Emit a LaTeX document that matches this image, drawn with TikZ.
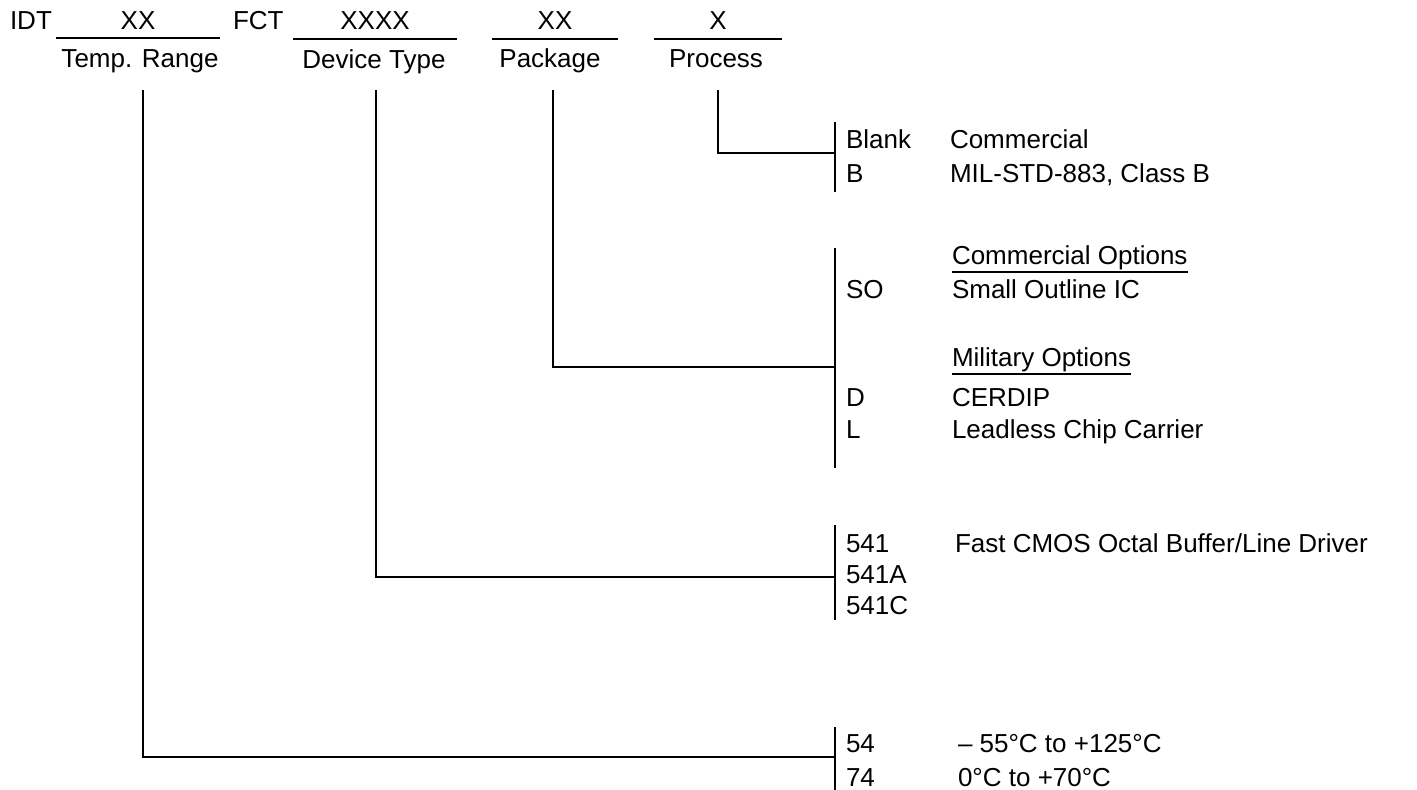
\documentclass[tikz,border=0pt]{standalone}
\usepackage{fontspec}
\setmainfont{Liberation Sans}
\begin{document}
\begin{tikzpicture}[x=1pt,y=-1pt,
  txt/.style={inner sep=0pt,outer sep=0pt,font=\fontsize{26}{31}\selectfont},
  lw/.style={anchor=base west,txt},
  lc/.style={anchor=base,txt},
  field/.style={line width=2.2pt},
  conn/.style={line width=1.8pt},
  bar/.style={line width=2pt},
  uline/.style={line width=1.5pt}]
\useasboundingbox (0,0) rectangle (1417,790);
% top row
\node[lw] (idt) at (10,29) {IDT};
\coordinate (f1a) at (56,38); \coordinate (f1b) at (220,38);
\draw[field] (f1a) -- (f1b);
\node[lc] (xx1) at (138,29) {XX};
\node[lw] (fct) at (233,29) {FCT};
\coordinate (f2a) at (293,39); \coordinate (f2b) at (457,39);
\draw[field] (f2a) -- (f2b);
\node[lc] (xxxx) at (375,29) {XXXX};
\coordinate (f3a) at (492,39); \coordinate (f3b) at (618,39);
\draw[field] (f3a) -- (f3b);
\node[lc] (xx2) at (555,29) {XX};
\coordinate (f4a) at (654,39); \coordinate (f4b) at (782,39);
\draw[field] (f4a) -- (f4b);
\node[lc] (x1) at (718,29) {X};
\node[lc] (temp) at (140,67) {Temp. Range};
\node[lc] (dev) at (374,68) {Device Type};
\node[lc] (pkg) at (550,67) {Package};
\node[lc] (proc) at (716,67) {Process};

% drop points
\coordinate (tv) at (143,90);
\coordinate (dv) at (376,90);
\coordinate (pv) at (553,90);
\coordinate (rv) at (718,90);

% bars
\coordinate (b1t) at (835,122); \coordinate (b1b) at (835,192);
\coordinate (b2t) at (835,248); \coordinate (b2b) at (835,468);
\coordinate (b3t) at (835,525); \coordinate (b3b) at (835,620);
\coordinate (b4t) at (835,727); \coordinate (b4b) at (835,790);
\draw[bar] (b1t) -- (b1b);
\draw[bar] (b2t) -- (b2b);
\draw[bar] (b3t) -- (b3b);
\draw[bar] (b4t) -- (b4b);

\coordinate (j1) at (835,153);
\coordinate (j2) at (835,367);
\coordinate (j3) at (835,577);
\coordinate (j4) at (835,757);
\draw[conn] (rv) |- (j1);
\draw[conn] (pv) |- (j2);
\draw[conn] (dv) |- (j3);
\draw[conn] (tv) |- (j4);

% process
\node[lw] (blank) at (846,148) {Blank};
\node[lw] (comm) at (950,148) {Commercial};
\node[lw] (b) at (846,182) {B};
\node[lw] (mil) at (950,182) {MIL-STD-883, Class B};

% package
\node[lw] (co) at (952,264) {Commercial Options};
\draw[uline] ([yshift=-8pt]co.base west) -- ([yshift=-8pt]co.base east);
\node[lw] (so) at (846,298) {SO};
\node[lw] (soi) at (952,298) {Small Outline IC};
\node[lw] (mo) at (952,366) {Military Options};
\draw[uline] ([yshift=-8pt]mo.base west) -- ([yshift=-8pt]mo.base east);
\node[lw] (d) at (846,406) {D};
\node[lw] (cer) at (952,406) {CERDIP};
\node[lw] (l) at (846,438) {L};
\node[lw] (lcc) at (952,438) {Leadless Chip Carrier};

% device
\node[lw] (d541) at (846,552) {541};
\node[lw] (fast) at (955,552) {Fast CMOS Octal Buffer/Line Driver};
\node[lw] (d541a) at (846,583) {541A};
\node[lw] (d541c) at (846,614) {541C};

% temp
\node[lw] (t54) at (846,752) {54};
\node[lw] (t54d) at (958,752) {– 55°C to +125°C};
\node[lw] (t74) at (846,786) {74};
\node[lw] (t74d) at (958,786) {0°C to +70°C};
\end{tikzpicture}
\end{document}
